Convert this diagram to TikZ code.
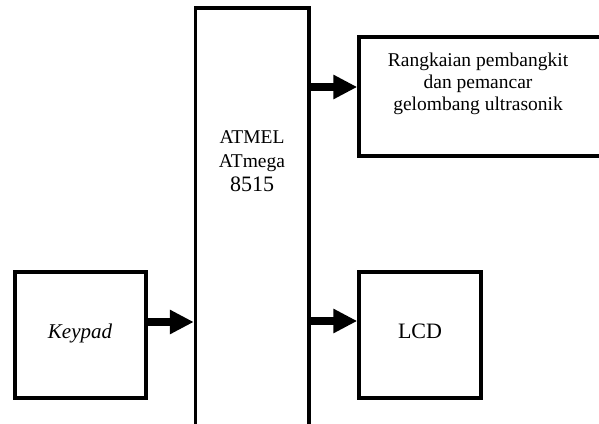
\documentclass[tikz,border=0pt]{standalone}
\usepackage{fontspec}
\setmainfont{Liberation Serif}
\usetikzlibrary{arrows.meta}
\begin{document}
\begin{tikzpicture}[x=1pt,y=-1pt,
  blk/.style={draw,line width=3.5pt,inner sep=0pt,align=center},
  bigarrow/.style={line width=8pt,-{Triangle[length=24pt,width=23pt]}},
  lbl/.style={font=\fontsize{19.5}{22}\selectfont,align=center}]
\clip (0,0) rectangle (599,423);
% boxes
\node[blk,minimum width=131pt,minimum height=126pt] (keypad) at (80.5,335) {};
\node[blk,minimum width=122pt,minimum height=126pt] (lcd) at (420,335) {};
\node[blk,minimum width=260pt,minimum height=119pt] (gen) at (489,96.5) {};
\node[inner sep=0pt,outer sep=1.75pt,minimum width=113.5pt,minimum height=430pt] (atmel) at (252.25,224.5) {};
\draw[line width=3.5pt] (atmel.south west) ++(1.75,0) |- (atmel.north) -| ([xshift=-1.75pt]atmel.south east);
% texts
\node[lbl,font=\fontsize{19.5}{24}\selectfont] (atxt) at (252,161) {ATMEL\\ATmega\\{\fontsize{22}{24}\selectfont 8515}};
\node[lbl] (gtxt) at (478,84) {Rangkaian pembangkit\\dan pemancar\\gelombang ultrasonik};
\node[lbl,font=\fontsize{21}{24}\selectfont\itshape] (ktxt) at (80,333) {Keypad};
\node[lbl,font=\fontsize{22}{24}\selectfont] (ltxt) at (420,331) {LCD};
% arrows
\coordinate (y1) at (0,322);
\coordinate (y2) at (0,321);
\coordinate (y3) at (0,87);
\draw[bigarrow] (keypad.east |- y1) -- (atmel.west |- y1);
\draw[bigarrow] (atmel.east |- y2) -- (lcd.west |- y2);
\draw[bigarrow] (atmel.east |- y3) -- (gen.west |- y3);
\end{tikzpicture}
\end{document}
